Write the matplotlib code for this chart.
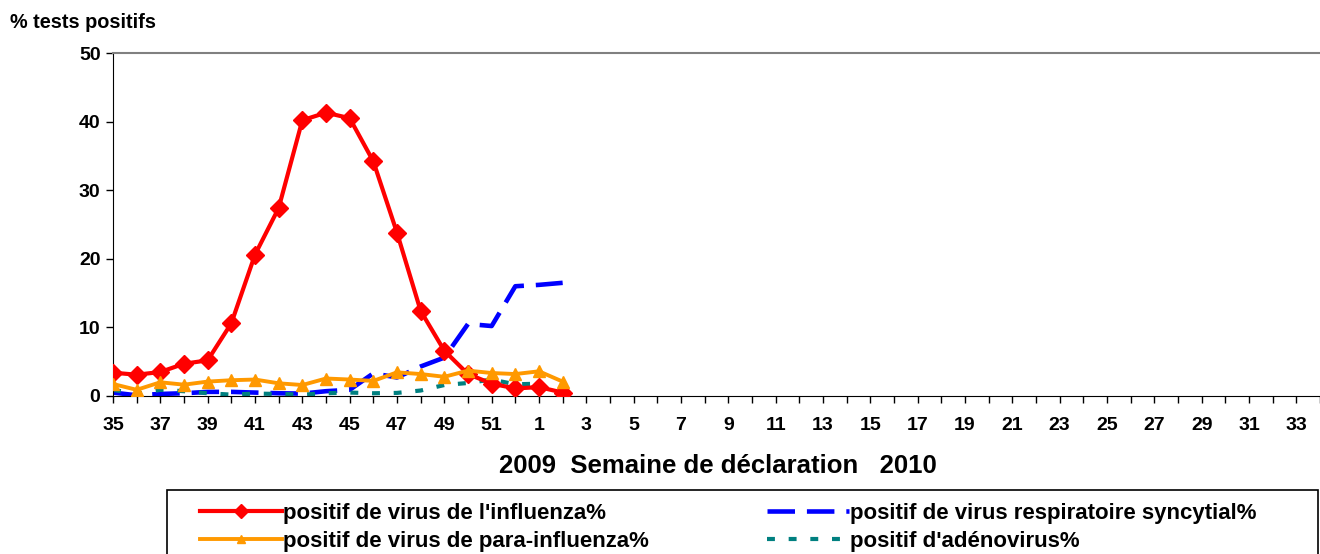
import matplotlib
matplotlib.use("Agg")
import matplotlib.pyplot as plt
from matplotlib.patches import Rectangle
import numpy as np

plt.rcParams['font.family'] = ['Liberation Sans', 'DejaVu Sans']
plt.rcParams['font.weight'] = 'bold'

weeks = list(range(35, 53)) + list(range(1, 35))
influenza = [3.4, 3.1, 3.5, 4.7, 5.2, 10.6, 20.6, 27.4, 40.2, 41.3, 40.5, 34.2,
             23.8, 12.4, 6.6, 3.2, 1.8, 1.1, 1.3, 0.5]
rsv = [0.5, 0.1, 0.3, 0.4, 0.6, 0.6, 0.5, 0.4, 0.35, 0.7, 0.9, 3.3,
       2.7, 4.3, 5.6, 10.5, 10.2, 16.0, 16.2, 16.5]
para = [1.75, 0.9, 2.0, 1.65, 2.1, 2.3, 2.4, 1.85, 1.6, 2.55, 2.4, 2.2,
        3.45, 3.2, 2.8, 3.7, 3.35, 3.2, 3.6, 2.1]
adeno = [0.9, 0.3, 0.9, 0.7, 0.4, 0.2, 0.35, 0.3, 0.2, 0.4, 0.5, 0.4,
         0.45, 0.8, 1.6, 1.9, 2.4, 1.7, 1.8]

labels = ["positif de virus de l'influenza%", "positif de virus respiratoire syncytial%",
          "positif de virus de para-influenza%", "positif d'adénovirus%"]
xlabel = "2009  Semaine de déclaration   2010"
ylabel = "% tests positifs"

W, H = 1320, 554
fig = plt.figure(figsize=(W / 100, H / 100), dpi=100)
ax = fig.add_axes([113 / W, 1 - 396 / H, (1320 - 113) / W, (396 - 53) / H])

x = np.arange(len(weeks))
l_inf, = ax.plot(x[:len(influenza)], influenza, color='#ff0000', lw=3.0,
                 marker='D', ms=9, zorder=3)
l_rsv, = ax.plot(x[:len(rsv)], rsv, color='#0000ff', lw=3.3,
                 dashes=(6.0, 2.6), zorder=2)
l_para, = ax.plot(x[:len(para)], para, color='#ff9900', lw=2.8,
                  marker='^', ms=8.5, zorder=4)
l_ad, = ax.plot(x[:len(adeno)], adeno, color='#008080', lw=3.0,
                dashes=(1.9, 3.3), zorder=2)

ax.set_xlim(0, len(weeks) - 1)
ax.set_ylim(0, 50)
ax.set_yticks([0, 10, 20, 30, 40, 50])
ax.set_xticks(x)
ax.set_xticklabels([str(w) if i % 2 == 0 else '' for i, w in enumerate(weeks)])
ax.tick_params(axis='x', direction='out', length=5, width=1, pad=10, labelsize=14)
ax.tick_params(axis='y', direction='out', length=5, width=1, pad=4, labelsize=14)
for t in ax.get_xticklabels() + ax.get_yticklabels():
    t.set_fontweight('bold')

ax.spines['right'].set_visible(False)
ax.spines['top'].set_color('#808080')
ax.spines['top'].set_linewidth(1.5)
ax.spines['left'].set_color('black')
ax.spines['bottom'].set_color('black')

fig.text(10 / W, 1 - 22 / H, ylabel, fontsize=14.3, fontweight='bold',
         ha='left', va='center')
fig.text(718 / W, 1 - 466 / H, xlabel, fontsize=18.5, fontweight='bold',
         ha='center', va='center')

# legend frame (extends beyond bottom edge)
fig.patches.append(Rectangle((167 / W, -0.1), (1318 - 167) / W, 0.1 + 1 - 490 / H,
                             transform=fig.transFigure, fill=False,
                             edgecolor='black', lw=1.2))
leg = fig.legend([l_inf, l_para, l_rsv, l_ad],
                 [labels[0], labels[2], labels[1], labels[3]], ncol=2,
                 loc='upper left', bbox_to_anchor=(200 / W, 1 - 503 / H),
                 frameon=False, fontsize=16, handlelength=3.7, handletextpad=0.05,
                 columnspacing=5.3, labelspacing=0.3, borderpad=0, borderaxespad=0,
                 markerscale=0.75)
for t in leg.get_texts():
    t.set_fontweight('bold')

fig.savefig('out.png', dpi=100)
